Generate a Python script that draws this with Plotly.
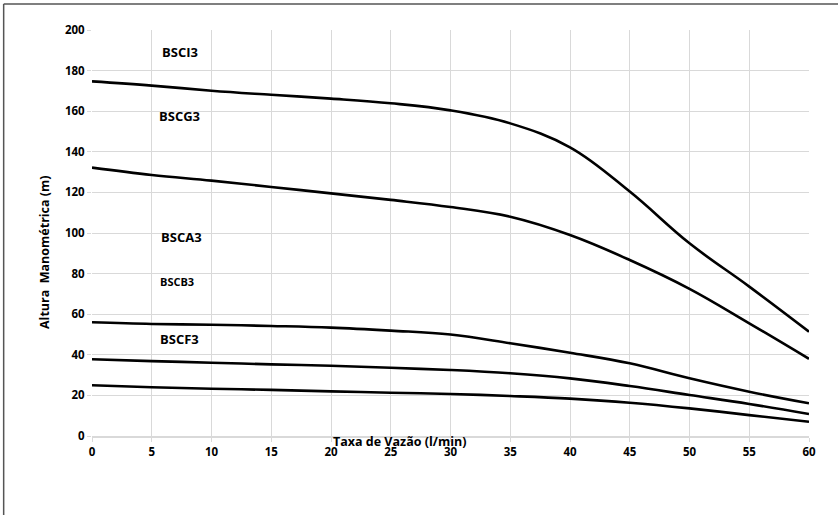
import plotly.graph_objects as go

x_vals = [0, 5, 10, 15, 20, 25, 30, 35, 40, 45, 50, 55, 60]

bsci3 = [174.7, 172.6, 170.1, 168.1, 166.2, 163.9, 160.4, 154.0, 142.2, 120.4, 94.9, 73.6, 51.4]
bscg3 = [132.2, 128.6, 125.8, 122.7, 119.5, 116.3, 112.8, 108.0, 99.0, 86.7, 72.5, 55.5, 38.0]
bsca3 = [56.0, 55.2, 54.8, 54.2, 53.4, 51.9, 50.0, 45.7, 41.0, 35.8, 28.4, 21.8, 16.1]
bscb3 = [37.8, 36.9, 36.1, 35.3, 34.6, 33.6, 32.5, 30.9, 28.4, 24.6, 20.2, 15.8, 10.8]
bscf3 = [25.0, 24.0, 23.3, 22.7, 22.0, 21.3, 20.7, 19.7, 18.4, 16.4, 13.6, 10.3, 7.0]

series = [bsci3, bscg3, bsca3, bscb3, bscf3]

label_names = ["BSCI3", "BSCG3", "BSCA3", "BSCB3", "BSCF3"]
label_x = [7.4, 7.3, 7.5, 7.1, 7.3]
label_y = [189, 157.5, 98, 76, 48]
label_sizes = [13, 13, 13, 11, 13]

x_ticks = list(range(0, 61, 5))
y_ticks = list(range(0, 201, 20))

FONT = "Open Sans"

fig = go.Figure()
for s in series:
    fig.add_trace(go.Scatter(
        x=x_vals, y=s, mode="lines",
        line=dict(color="black", width=2.6, shape="spline", smoothing=1.1),
        showlegend=False, hoverinfo="skip",
    ))

for name, lx, ly, fs in zip(label_names, label_x, label_y, label_sizes):
    fig.add_annotation(x=lx, y=ly, text=name, showarrow=False,
                       font=dict(family=FONT, size=fs, color="black", weight="bold"))

# axis titles placed like the reference
fig.add_annotation(xref="paper", yref="paper", x=0.429, y=-0.013,
                   text="Taxa de Vazão (l/min)", showarrow=False,
                   xanchor="center", yanchor="middle",
                   font=dict(family=FONT, size=12.5, color="black", weight="bold"))
fig.add_annotation(xref="paper", yref="paper", x=-0.067, y=0.453,
                   text="Altura  Manométrica (m)", showarrow=False, textangle=-90,
                   xanchor="center", yanchor="middle",
                   font=dict(family=FONT, size=12.5, color="black", weight="bold"))

# outer chart border (left and top edges visible, the rest lies outside the window)
fig.add_shape(type="line", xref="paper", yref="paper",
              x0=-0.1232, y0=-0.25, x1=-0.1232, y1=1.064,
              line=dict(color="#555555", width=1.5), layer="above")
fig.add_shape(type="line", xref="paper", yref="paper",
              x0=-0.1232, y0=1.064, x1=1.1, y1=1.064,
              line=dict(color="#555555", width=1.5), layer="above")

fig.update_xaxes(
    range=[0, 60], tickvals=x_ticks, ticktext=[str(v) for v in x_ticks],
    showgrid=True, gridcolor="#d9d9d9", gridwidth=1,
    showline=True, linecolor="#d9d9d9", linewidth=1.5,
    ticks="outside", ticklen=4, tickcolor="#d9d9d9",
    zeroline=False, mirror=False,
    tickfont=dict(family=FONT, size=11.5, color="black", weight="bold"),
)
fig.update_yaxes(
    range=[0, 200], tickvals=y_ticks, ticktext=[str(v) for v in y_ticks],
    showgrid=True, gridcolor="#d9d9d9", gridwidth=1,
    showline=False, zeroline=False,
    ticks="outside", ticklen=4, tickcolor="#d9d9d9",
    tickfont=dict(family=FONT, size=11.5, color="black", weight="bold"),
)

fig.update_layout(
    width=838, height=515,
    margin=dict(l=92, r=29, t=30, b=79),
    paper_bgcolor="white", plot_bgcolor="white",
    showlegend=False,
)

fig.write_html("out.html",
               config={"displayModeBar": False},
               post_script="document.body.style.margin='0';document.body.style.overflow='hidden';")
